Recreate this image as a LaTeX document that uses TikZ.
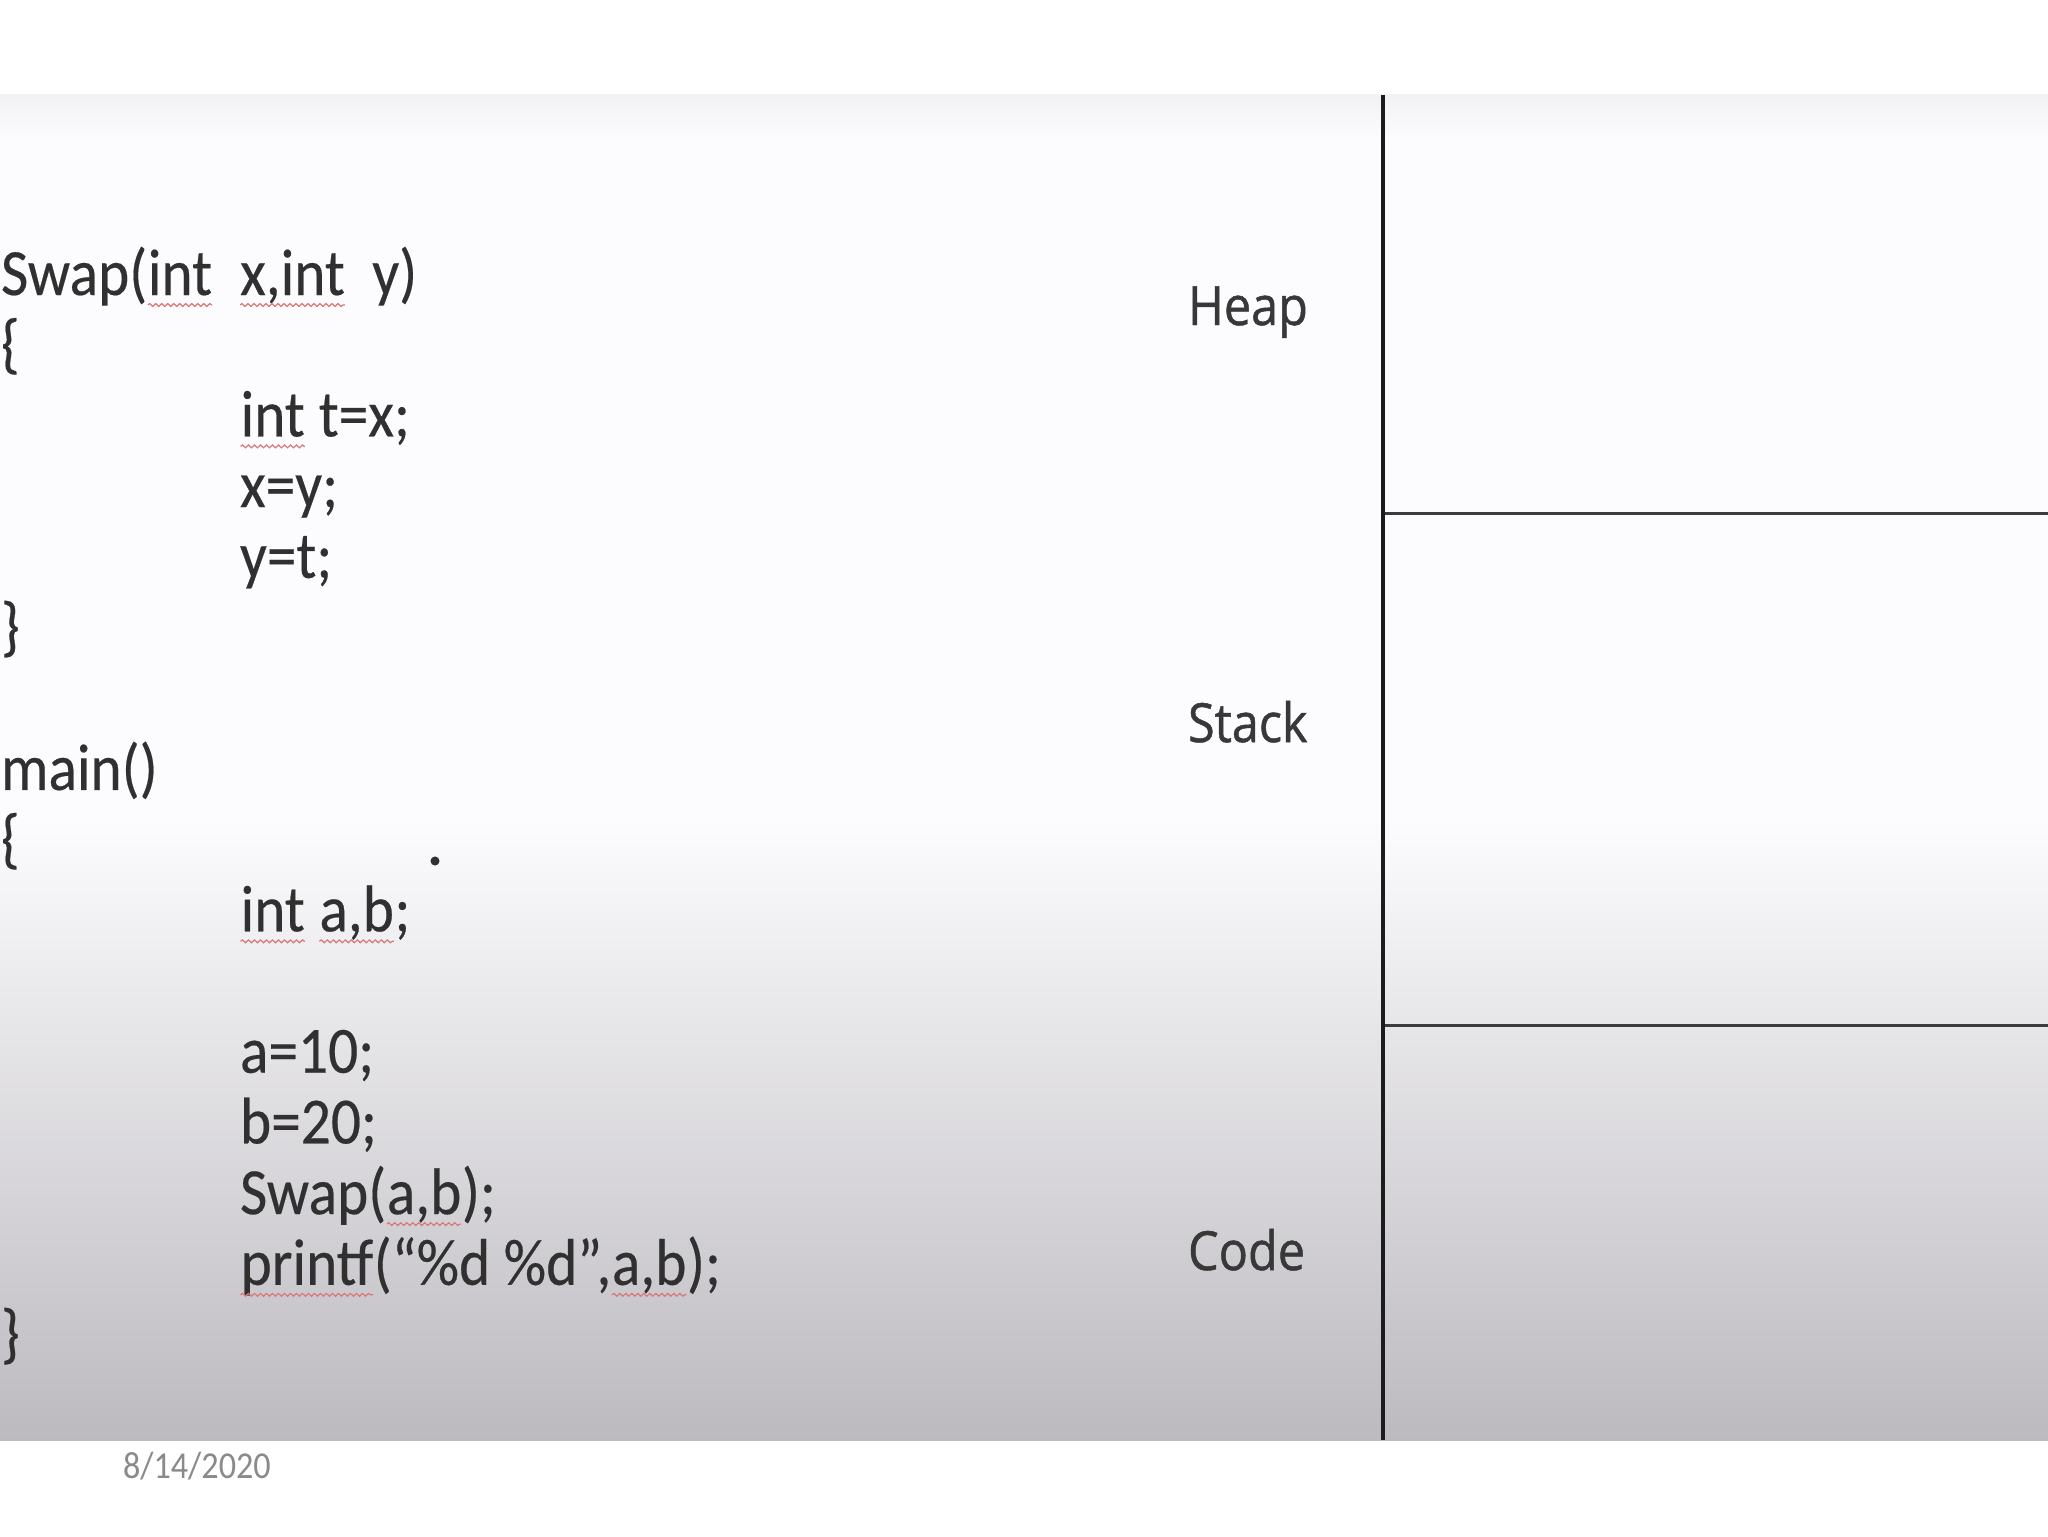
\documentclass[tikz,border=0pt]{standalone}
\usepackage{fontspec}
\setmainfont{Carlito}
\newfontfamily\codefont{Carlito}[FakeStretch=0.9, FakeBold=0.3]
\newfontfamily\labfont{Open Sans}[FakeStretch=0.9, FakeBold=0.9]
\newfontfamily\datefont{Carlito}[FakeStretch=0.9]
\usetikzlibrary{decorations.pathmorphing}
\definecolor{codetext}{HTML}{303030}
\definecolor{labtext}{HTML}{383838}
\definecolor{datetext}{HTML}{8A8A8A}
\definecolor{squigred}{HTML}{D87878}
\definecolor{bgtop}{HTML}{F2F1F4}
\definecolor{bglight}{HTML}{FCFBFD}
\definecolor{bgdark}{HTML}{BCBABF}
\definecolor{vcol}{HTML}{1C1C1C}
\definecolor{hcol}{HTML}{3C3C3C}
\tikzset{
  code/.style={anchor=base west, inner sep=0pt, outer sep=0pt, text=codetext,
    font=\codefont\fontsize{33}{40}\selectfont},
  seglabel/.style={anchor=base west, inner sep=0pt, outer sep=0pt, text=labtext,
    font=\labfont\fontsize{27}{32}\selectfont},
  datelabel/.style={anchor=base west, inner sep=0pt, outer sep=0pt, text=datetext,
    font=\datefont\fontsize{19}{23}\selectfont},
  squig/.style={draw=squigred, line width=0.6pt, decorate,
    decoration={snake, amplitude=0.7pt, segment length=3pt}},
  vline/.style={draw=vcol, line width=2.4pt},
  hline/.style={draw=hcol, line width=1.5pt},
}
\newcommand\sq[1]{\tikz[baseline=0pt]{\node[inner sep=0pt, outer sep=0pt, anchor=base west] (sqw) at (0,0) {#1};
  \draw[squig] ([yshift=-5pt]sqw.base west) -- ([yshift=-5pt]sqw.base east);}}
\begin{document}
\begin{tikzpicture}[x=0.5pt, y=-0.5pt]
\useasboundingbox (0,0) rectangle (2048,1536);
% background
\fill[white] (0,0) rectangle (2048,1536);
\fill[bglight] (0,95) rectangle (2048,1440);
\shade[top color=bgtop, bottom color=bglight] (0,95) rectangle (2048,140);
\shade[top color=bglight, bottom color=bgdark] (0,820) rectangle (2048,1440);
% memory layout lines
\coordinate (vt) at (1383,95);
\coordinate (vb) at (1383,1440);
\coordinate (h1l) at (1383,513);
\coordinate (h1r) at (2048,513);
\coordinate (h2l) at (1383,1025);
\coordinate (h2r) at (2048,1025);
\draw[hline] (h1l) -- (h1r);
\draw[hline] (h2l) -- (h2r);
\draw[vline] (vt) -- (vb);
% segment labels
\node[seglabel] (heap) at (1188,325) {Heap};
\node[seglabel] (stack) at (1188,742) {Stack};
\node[seglabel] (codeseg) at (1188,1270) {Code};
% code
\node[code] (l0) at (1,295) {Swap(\sq{int}\ \ \sq{x,int}\ \ y)};
\node[code] (l1) at (1,365.7) {\{};
\node[code] (l2) at (240,436.4) {\sq{int} t=x;};
\node[code] (l3) at (240,507.1) {x=y;};
\node[code] (l4) at (240,577.8) {y=t;};
\node[code] (l5) at (1,648.5) {\}};
\node[code] (l7) at (1,789.9) {main()};
\node[code] (l8) at (1,860.6) {\{};
\node[code] (l9) at (240,931.3) {\sq{int} \sq{a,b};};
\node[code] (l11) at (240,1072.7) {a=10;};
\node[code] (l12) at (240,1143.4) {b=20;};
\node[code] (l13) at (240,1214.1) {Swap(\sq{a,b});};
\node[code] (l14) at (240,1284.8) {\sq{printf}(“\%d \%d”,\sq{a,b});};
\node[code] (l15) at (1,1355.5) {\}};
\node[circle, fill=codetext, inner sep=1.6pt] (dot) at (435,861) {};
% date
\node[datelabel] (date) at (123,1478) {8/14/2020};
\end{tikzpicture}
\end{document}
